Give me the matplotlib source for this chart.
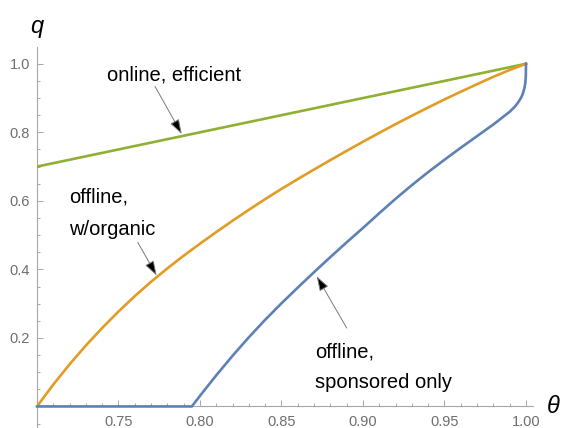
import numpy as np
import matplotlib
matplotlib.use("Agg")
import matplotlib.pyplot as plt
from matplotlib.ticker import FixedLocator, MultipleLocator

plt.rcParams['font.family'] = ['Liberation Sans', 'DejaVu Sans']

# online, efficient allocation: q = theta
theta_online = [0.70, 1.00]
q_online = [0.70, 1.00]

# offline with organic results
theta_organic = [0.70, 0.71, 0.72, 0.73, 0.74, 0.75, 0.76, 0.77, 0.78, 0.79,
                 0.80, 0.81, 0.82, 0.83, 0.84, 0.85, 0.86, 0.87, 0.88, 0.89,
                 0.90, 0.91, 0.92, 0.93, 0.94, 0.95, 0.96, 0.97, 0.98, 0.99, 1.00]
q_organic = [0.000, 0.064, 0.123, 0.178, 0.229, 0.277, 0.322, 0.364, 0.403, 0.440,
             0.475, 0.509, 0.542, 0.574, 0.605, 0.635, 0.6635, 0.6915, 0.719, 0.746,
             0.7725, 0.7985, 0.824, 0.8485, 0.8725, 0.896, 0.9185, 0.9405, 0.962, 0.982, 1.000]

# offline, sponsored links only
theta_sponsored = [0.70, 0.795, 0.80, 0.81, 0.82, 0.83, 0.84, 0.85, 0.86, 0.87,
                   0.88, 0.89, 0.90, 0.91, 0.92, 0.93, 0.94, 0.95, 0.96, 0.97,
                   0.98, 0.99, 0.993, 0.995, 0.997, 0.998, 0.999, 0.9996, 0.9999, 1.00]
q_sponsored = [0.000, 0.000, 0.031, 0.091, 0.148, 0.202, 0.253, 0.301, 0.347, 0.392,
               0.436, 0.479, 0.521, 0.564, 0.606, 0.646, 0.684, 0.720, 0.755, 0.789,
               0.823, 0.860, 0.874, 0.886, 0.901, 0.912, 0.928, 0.945, 0.965, 1.000]

xticks = [0.75, 0.80, 0.85, 0.90, 0.95, 1.00]
xticklabels = ["0.75", "0.80", "0.85", "0.90", "0.95", "1.00"]
yticks = [0.2, 0.4, 0.6, 0.8, 1.0]
yticklabels = ["0.2", "0.4", "0.6", "0.8", "1.0"]

blue = "#5e81b5"
orange = "#e19c24"
green = "#8fb032"
axis_gray = "#a6a6a6"
label_gray = "#6e6e6e"

fig = plt.figure(figsize=(5.64, 4.28), dpi=100)
ax = fig.add_axes([37/564, 1/428, 496/564, 380/428])
ax.set_xlim(0.7, 1.0043)
ax.set_ylim(-0.06, 1.049)

ax.plot(theta_sponsored, q_sponsored, color=blue, lw=1.9, zorder=5, clip_on=False)
ax.plot(theta_organic, q_organic, color=orange, lw=1.9, zorder=4)
ax.plot(theta_online, q_online, color=green, lw=1.9, zorder=3)

# axes crossing at (0.7, 0)
for s in ['top', 'right']:
    ax.spines[s].set_visible(False)
ax.spines['bottom'].set_position(('data', 0))
ax.spines['left'].set_position(('data', 0.7))
for s in ['bottom', 'left']:
    ax.spines[s].set_color(axis_gray)
    ax.spines[s].set_linewidth(0.8)

ax.xaxis.set_major_locator(FixedLocator(xticks))
ax.set_xticklabels(xticklabels)
ax.xaxis.set_minor_locator(MultipleLocator(0.01))
ax.yaxis.set_major_locator(FixedLocator(yticks))
ax.set_yticklabels(yticklabels)
ax.yaxis.set_minor_locator(MultipleLocator(0.05))
ax.tick_params(which='both', direction='in', color=axis_gray, width=0.7)
ax.tick_params(which='major', length=4, labelsize=10.5, labelcolor=label_gray)
ax.tick_params(which='minor', length=2.2)
ax.tick_params(axis='x', which='major', pad=6)
ax.tick_params(axis='y', which='major', pad=5)

ax.text(0.7, 1.11, "q", fontsize=17, style='italic', ha='center', va='center', clip_on=False)
ax.text(1.0166, 0.0, "θ", fontsize=17, style='italic', ha='center', va='center', clip_on=False)

arrow = dict(arrowstyle='-|>,head_length=0.45,head_width=0.15', mutation_scale=20,
             facecolor='black', edgecolor='#7a7a7a', lw=0.7, shrinkA=0, shrinkB=0)
tsize = 14.5

ax.text(0.784, 0.951, "online, efficient", fontsize=tsize, ha='center', va='baseline')
ax.annotate("", xy=(0.7888, 0.795), xytext=(0.7724, 0.934), arrowprops=arrow)

ax.text(0.7196, 0.594, "offline,", fontsize=tsize, ha='left', va='baseline')
ax.text(0.7196, 0.499, "w/organic", fontsize=tsize, ha='left', va='baseline')
ax.annotate("", xy=(0.7734, 0.382), xytext=(0.7618, 0.479), arrowprops=arrow)

ax.text(0.8706, 0.142, "offline,", fontsize=tsize, ha='left', va='baseline')
ax.text(0.8706, 0.0545, "sponsored only", fontsize=tsize, ha='left', va='baseline')
ax.annotate("", xy=(0.8716, 0.380), xytext=(0.890, 0.229), arrowprops=arrow)

fig.savefig("out.png", dpi=100)
